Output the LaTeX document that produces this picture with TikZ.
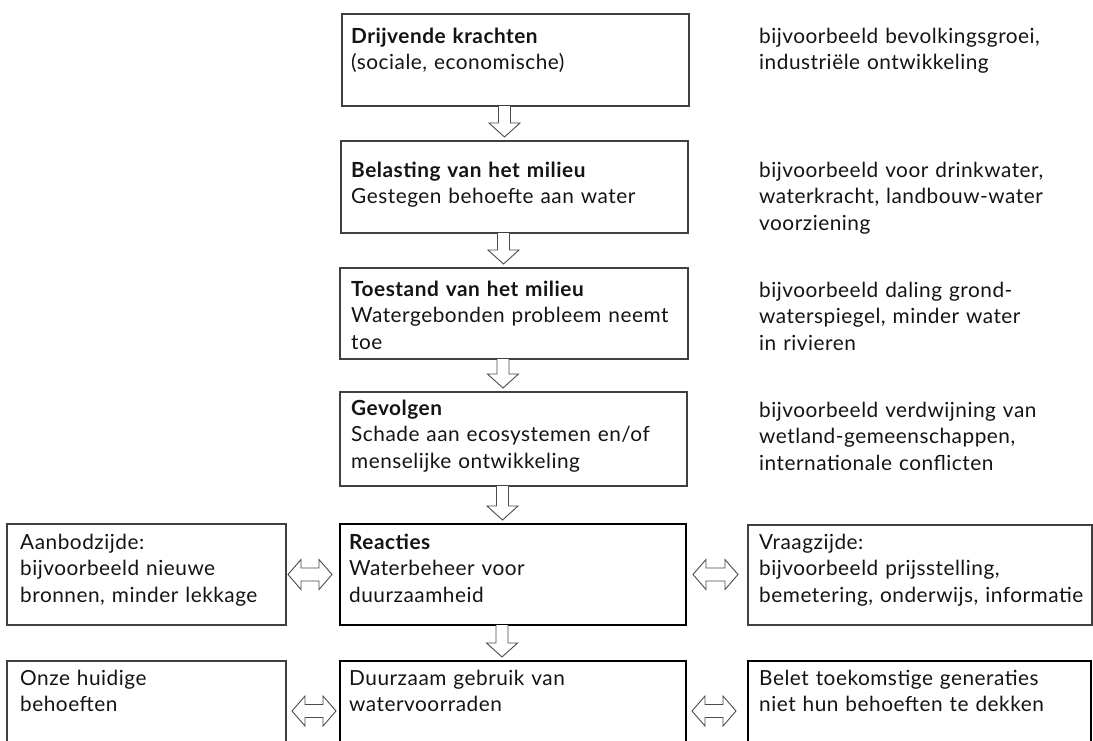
\documentclass[tikz,border=0pt]{standalone}
\usepackage{fontspec}
\setmainfont{Lato}[LetterSpace=2.5]
\usetikzlibrary{calc}
\newcommand\vblock[2]{%
  \draw[blockarrow] let \p1=(#1.south), \p2=(#2.north) in
   (\x1-17pt,\y1) -- (\x1-17pt,\y2+18pt) -- (\x1-26.5pt,\y2+18pt) -- (\x1-11pt,\y2+4pt)
   -- (\x1+4.5pt,\y2+18pt) -- (\x1-5pt,\y2+18pt) -- (\x1-5pt,\y1);}
\newcommand\hblock[4]{%
  \draw[blockarrow] let \p1=(#1.east), \p2=(#2.west), \n1={\x1+#3pt}, \n2={\x2-#4pt} in
   (\n1,\y1) -- (\n1+13pt,\y1+15pt) -- (\n1+13pt,\y1+6.5pt) -- (\n2-13pt,\y1+6.5pt)
   -- (\n2-13pt,\y1+15pt) -- (\n2,\y1) -- (\n2-13pt,\y1-15pt) -- (\n2-13pt,\y1-6.5pt)
   -- (\n1+13pt,\y1-6.5pt) -- (\n1+13pt,\y1-15pt) -- cycle;}
\begin{document}
\begin{tikzpicture}[x=1pt,y=-1pt,
  thinbox/.style={draw=black!75, line width=1.2pt, inner sep=0pt, outer sep=0pt, anchor=north west},
  thickbox/.style={draw=black, line width=2.6pt, inner sep=0pt, outer sep=0pt, anchor=north west},
  txt/.style={inner sep=0pt, anchor=base west, align=left, text width=345pt,
    font=\fontsize{20.8}{26.5}\selectfont, text=black!92},
  blockarrow/.style={draw=black!70, line width=0.9pt, line join=miter, fill=white}]
\clip (0,0) rectangle (1093,740);
\fill[white] (0,0) rectangle (1093,740);
% central column
\node[thinbox, minimum width=347pt, minimum height=92pt] (b1) at (342,14) {};
\node[thinbox, minimum width=347pt, minimum height=92pt] (b2) at (341,141) {};
\node[thinbox, minimum width=348pt, minimum height=91pt] (b3) at (340,268) {};
\node[thinbox, minimum width=347pt, minimum height=94pt] (b4) at (340,392) {};
\node[thickbox, minimum width=346pt, minimum height=101pt] (b5) at (340,524) {};
\node[thickbox, minimum width=346pt, minimum height=100pt] (b6) at (340,661) {};
% side boxes
\node[thinbox, minimum width=279pt, minimum height=101pt] (l5) at (7,524) {};
\node[thinbox, minimum width=279pt, minimum height=100pt] (l6) at (7,661) {};
\node[thinbox, minimum width=344pt, minimum height=100pt] (r5) at (748,525) {};
\node[thickbox, minimum width=343pt, minimum height=100pt] (r6) at (748,661) {};
% texts in boxes
\node[txt] (t1) at ($(b1.north west)+(9,29)$) {\textbf{Drijvende krachten}\\(sociale, economische)};
\node[txt] (t2) at ($(b2.north west)+(10,36)$) {\textbf{Belasting van het milieu}\\Gestegen behoefte aan water};
\node[txt] (t3) at ($(b3.north west)+(11,28)$) {\textbf{Toestand van het milieu}\\Watergebonden probleem neemt\\toe};
\node[txt] (t4) at ($(b4.north west)+(11,23)$) {\textbf{Gevolgen}\\Schade aan ecosystemen en/of\\menselijke ontwikkeling};
\node[txt] (t5) at ($(b5.north west)+(9,25)$) {\textbf{Reacties}\\Waterbeheer voor\\duurzaamheid};
\node[txt] (t6) at ($(b6.north west)+(9,24)$) {Duurzaam gebruik van\\watervoorraden};
\node[txt] (tl5) at ($(l5.north west)+(13,25)$) {Aanbodzijde:\\bijvoorbeeld nieuwe\\bronnen, minder lekkage};
\node[txt] (tl6) at ($(l6.north west)+(13,24)$) {Onze huidige\\behoeften};
\node[txt] (tr5) at ($(r5.north west)+(11,24)$) {Vraagzijde:\\bijvoorbeeld prijsstelling,\\bemetering, onderwijs, informatie};
\node[txt] (tr6) at ($(r6.north west)+(11,24)$) {Belet toekomstige generaties\\niet hun behoeften te dekken};
% side notes
\node[txt] (s1) at ($(b1.north east)+(70,29)$) {bijvoorbeeld bevolkingsgroei,\\industriële ontwikkeling};
\node[txt] (s2) at ($(b2.north east)+(71,36)$) {bijvoorbeeld voor drinkwater,\\waterkracht, landbouw-water\\voorziening};
\node[txt] (s3) at ($(b3.north east)+(71,29)$) {bijvoorbeeld daling grond-\\waterspiegel, minder water\\in rivieren};
\node[txt] (s4) at ($(b4.north east)+(72,25)$) {bijvoorbeeld verdwijning van\\wetland-gemeenschappen,\\internationale conflicten};
% arrows
\vblock{b1}{b2}
\vblock{b2}{b3}
\vblock{b3}{b4}
\vblock{b4}{b5}
\vblock{b5}{b6}
\hblock{l5}{b5}{2}{8}
\hblock{b5}{r5}{7}{10}
\hblock{l6}{b6}{6}{4}
\hblock{b6}{r6}{6}{12}
\end{tikzpicture}
\end{document}
